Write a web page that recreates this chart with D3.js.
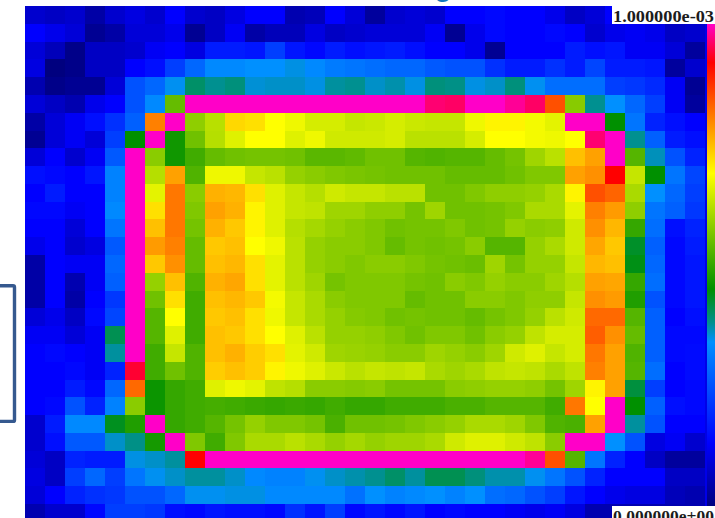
<!DOCTYPE html>
<html><head><meta charset="utf-8">
<style>html,body{margin:0;padding:0;background:#fff;overflow:hidden}svg{display:block}</style>
<script src="https://cdn.jsdelivr.net/npm/d3@7"></script>
</head><body><div id="c"></div>
<script>
const row00=[8,7,8,4,8,10,8,13,8,7,10,13,13,5,6,13,9,3,8,9,8,13,13,14,13,13,11,7,9,13,13,13,13,13];
const row01=[13,11,9,2,4,9,9,11,2,7,12,4,6,6,10,7,8,9,9,9,12,2,11,14,13,13,14,13,8,11,12,11,7,8];
const row02=[9,6,1,7,7,8,12,13,10,17,17,16,22,16,14,17,15,16,17,15,13,13,11,2,13,13,13,17,15,16,12,12,9,3];
const row03=[10,0,1,7,7,13,15,22,28,33,33,34,34,35,33,31,30,29,28,28,26,25,25,20,17,17,20,17,23,17,17,16,3,8];
const row04=[5,1,2,2,9,25,28,34.5,40,38,39,35.5,36,36,35,37.5,38,36,37,35,39,38.5,35,36,39,34.5,29,29,29,22,21,19,12,2];
const row05=[9,7,5,11,13,25,33,54.5,100,100,100,100,100,100,100,100,100,100,100,100,96.5,96,100,100,98,96,84.8,57.8,38,34,28,22,12,3];
const row06=[4,9,12,15,20,27,80.5,100,58.5,62.3,72.5,71.8,69,67.5,65,65,63.5,64,65,64,63.5,63.5,67.5,70,70,68,66.5,100,100,45,30,18,15,13];
const row07=[2,9,12,9,22,45,100,46.5,55.5,62,66,69,69,66,67.5,64.5,64.5,64.5,65,62.5,62.5,62.5,65,69,69,68,67.5,69,96.5,100,38,27,17,15];
const row08=[9,13,8,12,26,100,58,46.5,51,54.5,55.5,56,56,55.5,53.5,53.5,54,55.5,55.5,53,52.5,53,53,54.5,56,60,62.5,74.7,77.5,100,53,36.5,25,18];
const row09=[15,14,13,16,32,100,62,77.5,52.5,67.5,67.5,63.5,62.5,59,58,57,56.5,56,55.5,55.5,55.5,54.5,54.5,54.5,55.5,57,57,77.5,79,92,63.5,45,30,23];
const row10=[13,17,13,13,32,100,66.5,81.3,58,76,75.5,71.8,66,63.5,62,64.5,63.5,63.5,62.5,62.5,55.5,55.5,57,58.5,58.5,59,61,70,84.8,83,61,34,28,22];
const row11=[14,14,12,13,33,100,71.8,81.3,57,77.5,76,70,66,63.5,63,60,60,58.5,58.5,56,60,55.5,55.5,56,57,61,61,66.5,80.5,78,58.5,30,27,21];
const row12=[13,13,9,13,30,100,74.7,81.3,56,76,74,70,66,62,60.5,59,58,57,55.5,56,56,57,55.5,56,59,58,58.5,64.5,79,75.5,50,29,15,18];
const row13=[11,13,8,10,26,100,78,80.5,54.5,74,74.7,69,67.5,62.5,59,58,58,57,54.5,56,55.5,56,58,53,53,59,61,64.5,77,74,43,27,14,17];
const row14=[4,13,12,12,28,100,74,79,54.5,74.7,75.5,71.8,66.5,62.5,59,58,57,58,58,57,56,55.5,55,60,56,59,59,63.5,75.5,74.7,44,28,14,16];
const row15=[4,13,5,12,27,100,59,74.7,52.5,76,77,71.8,66.5,62.5,60,56,57,57,57,56,55.5,58,57,59,58,58,60,62,77.5,77,50,29,14,16];
const row16=[4,13,4,13,21,100,55.5,71.8,51,74.7,75.5,74,68,63.5,61,58,57,57,57,54.5,55.5,55.5,58,58,57,58.5,58.5,63.5,79,78,48,25,14,16];
const row17=[9,11,7,14,23,100,53,69,51,74,74.7,71.8,67.5,63.5,61,59,57.5,57,55.5,56,55.5,55.5,54.5,56,57,59,62.5,64.5,82.5,82.5,53,27,13,15];
const row18=[12,12,9,12,41,100,53,66,51,74.7,74,71.8,69,66,62.5,59,59,58.5,57,55.5,57,57,55.5,58,59,63,65,65,83.5,79,54.5,27,14,14];
const row19=[13,14,13,12,37.5,100,51,63.5,52.5,74.7,76,73.5,71.8,66.5,64.5,60,59.5,59,58,58,60,59,58,60,64.5,66,63.5,65,81.3,77.5,52.5,27,14,14.5];
const row20=[13,13,14,12,18,94,51,55.5,52.5,73.5,74.7,73.5,70,67.5,66,64,62.5,63.5,63,63.5,61,60,61,63,63.5,63,61,63,80.5,77.5,53,29,13,14.5];
const row21=[13,13,17,14,28,82.5,46,50,51,66,67.5,66.5,63,62,58,58,57.5,58,56,56,56,58,58.5,59,59,58.5,56,60,70,77.5,42,22,13,14];
const row22=[13,14,25,18,32,58,46,50,51,51.5,51,50.5,50,50.5,50,51,50,50,51,51,51,52,52,53,53,53,51,81.3,69,100,45,27,15,14];
const row23=[8,17,33,33,43.5,48,100,50,51,53,56,59,57,57,56,52,55.5,55.5,56,57,58,59,61,61,60,57,52.5,52,77.5,100,37.5,25,13,13];
const row24=[8,15,26,26,36,38.5,47,100,57,51,57,61,61,62.5,61,59,60.5,59,60,60,61,64.5,66,66,64.5,63,58,100,100,34,25,10,12,8];
const row25=[9,7,18,17,17,35,36,37.5,92,100,100,100,100,100,100,100,100,100,100,100,100,100,100,100,100,98,84.8,53,30,18,13,7,3,3];
const row26=[10,7,22,28,22,30,34.5,36,37.5,37.5,36,33,32,32,34.5,36,37,38,40,37.5,41,41,39,37,37,34.5,30,25,18,13,13,13,7,7];
const row27=[9,13,18,20,21,25,25,28,34.5,34.5,35,35,33,33,33,33,29.5,34,32,33,34,32,34,29,28,25,22,16,13,11,10,10,6,5];
const row28=[5,8,8,14,22,22,21,15,14,16,15,15,14,20,16,22,14,16,14,16,13,14,13,13,12,11,12,10,5,5,5,5,5,5];
const cells=[row00,row01,row02,row03,row04,row05,row06,row07,row08,row09,row10,row11,row12,row13,row14,row15,row16,row17,row18,row19,row20,row21,row22,row23,row24,row25,row26,row27,row28];

const colorStops=[0,13,34,38,45,69,92,100];
const colorRange=["#00007f","#0000ff","#0090ff","#009090","#009000","#ffff00","#ff0000","#ff00c8"];
const scaleLabels=["1.000000e-03","0.000000e+00"];
const titleFragment="g";

const W=715,H=518;
const color=d3.scaleLinear().domain(colorStops).range(colorRange);
const x=d3.scaleLinear().domain([0,34]).range([24.5,704.8]);
const y=d3.scaleLinear().domain([0,29]).range([6,521.8]);
const bar=d3.scaleLinear().domain([0,100]).range([506,24]);

const svg=d3.select("#c").append("svg").attr("width",W).attr("height",H).attr("viewBox",`0 0 ${W} ${H}`);
const defs=svg.append("defs");
defs.append("clipPath").attr("id","plot").append("rect").attr("x",25).attr("y",6).attr("width",680).attr("height",H-6);
const grad=defs.append("linearGradient").attr("id","cb").attr("x1",0).attr("x2",0).attr("y1",1).attr("y2",0);
grad.selectAll("stop").data(colorStops).join("stop").attr("offset",d=>d/100).attr("stop-color",d=>color(d));

svg.append("text").attr("x",443).attr("y",-4).attr("text-anchor","middle")
  .attr("font-family","'Liberation Sans',sans-serif").attr("font-size",28).attr("font-weight",700)
  .attr("fill","#1277bd").text(titleFragment);

svg.append("rect").attr("x",-10).attr("y",285.8).attr("width",24.5).attr("height",135.6)
  .attr("rx",1.5).attr("fill","none").attr("stroke","#35598f").attr("stroke-width",3.4);

const g=svg.append("g").attr("clip-path","url(#plot)").attr("shape-rendering","crispEdges");
cells.forEach((r,j)=>{
  g.selectAll(null).data(r).join("rect")
    .attr("x",(d,i)=>x(i)).attr("y",y(j))
    .attr("width",(d,i)=>x(i+1)-x(i)+0.5).attr("height",y(j+1)-y(j)+0.5)
    .attr("fill",d=>color(d));
});

svg.append("rect").attr("x",705).attr("y",bar(100)).attr("width",2).attr("height",bar(0)-bar(100)).attr("fill","#0000e8");
svg.append("rect").attr("x",707).attr("y",bar(100)).attr("width",8).attr("height",bar(0)-bar(100)).attr("fill","url(#cb)");

svg.append("rect").attr("x",612).attr("y",0).attr("width",103).attr("height",24).attr("fill","#fff");
svg.append("rect").attr("x",612).attr("y",506).attr("width",103).attr("height",12).attr("fill","#fff");
const lab=svg.selectAll("text.lab").data(scaleLabels).join("text").attr("class","lab")
  .attr("x",613).attr("y",(d,i)=>i?522:22)
  .attr("font-family","'Liberation Serif',serif").attr("font-size",17).attr("font-weight",700)
  .attr("textLength",101).attr("lengthAdjust","spacingAndGlyphs")
  .attr("fill","#1c1c1c").text(d=>d);
</script></body></html>
